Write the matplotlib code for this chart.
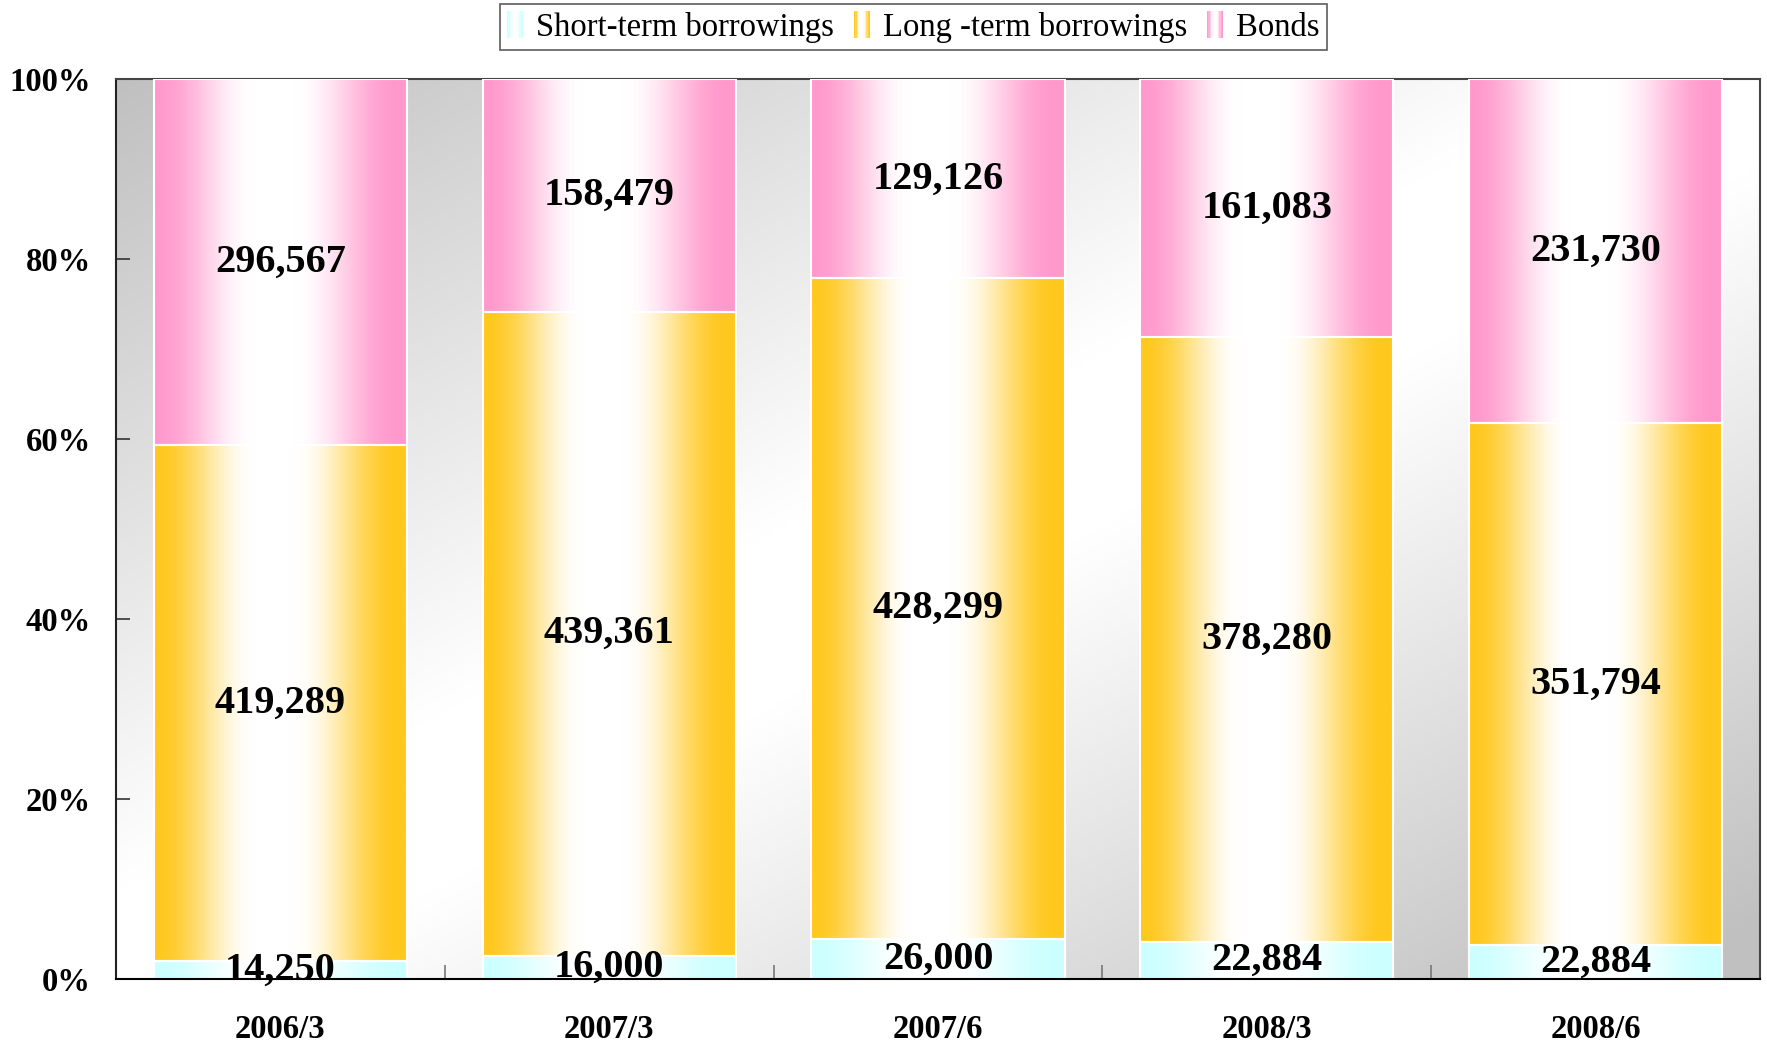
import numpy as np
import matplotlib
matplotlib.use("Agg")
import matplotlib.pyplot as plt
from matplotlib.colors import to_rgb
from matplotlib.patches import Rectangle
from matplotlib.legend_handler import HandlerBase
from matplotlib.ticker import FixedLocator, FuncFormatter

categories = ["2006/3", "2007/3", "2007/6", "2008/3", "2008/6"]
short_term = [14250, 16000, 26000, 22884, 22884]
long_term = [419289, 439361, 428299, 378280, 351794]
bonds = [296567, 158479, 129126, 161083, 231730]
series_names = ["Short-term borrowings", "Long -term borrowings", "Bonds"]
series_colors = ["#ccffff", "#ffc81e", "#ff99cc"]
yticks = [0, 20, 40, 60, 80, 100]

SERIF = ["Liberation Serif", "DejaVu Serif"]

fig = plt.figure(figsize=(17.67, 10.43), dpi=100)
ax = fig.add_axes([0.0656, 0.0614, 0.9305, 0.8626])

# background diagonal gradient (grey - white - grey)
nu, nv = 400, 200
u = np.linspace(0, 1, nu)[None, :]
v = np.linspace(1, 0, nv)[:, None]  # row 0 is top
s = (u + (1 - v)) / 2.0
g = np.where(s < 0.5, np.clip((0.45 - s) / 0.45, 0, 1), np.clip((s - 0.55) / 0.42, 0, 1))
grey = (255 - 63 * g) / 255.0
bg = np.dstack([grey, grey, grey])
ax.imshow(bg, extent=(0, 1, 0, 1), transform=ax.transAxes, aspect="auto",
          zorder=0, interpolation="bilinear")


def profile(t):
    t = np.asarray(t, dtype=float)
    a, b = 0.40, 0.55
    left = np.where(t < a, 0.5 * (1 + np.cos(np.pi * np.clip(t / a, 0, 1))), 0.0)
    right = np.where(t > b, 0.5 * (1 - np.cos(np.pi * np.clip((t - b) / (0.97 - b), 0, 1))), 0.0)
    return np.maximum(left, right)


totals = np.array(short_term) + np.array(long_term) + np.array(bonds)
series = [np.array(short_term), np.array(long_term), np.array(bonds)]
x = np.arange(len(categories))
width = 0.77
bottom = np.zeros(len(categories))
containers = []
for vals, col in zip(series, series_colors):
    pct = vals / totals * 100
    bc = ax.bar(x, pct, width, bottom=bottom, facecolor="none", edgecolor="white",
                linewidth=1.5, zorder=3.2)
    containers.append((bc, vals, pct, bottom.copy(), col))
    bottom = bottom + pct

tt = np.linspace(0, 1, 400)
for bc, vals, pct, bot, col in containers:
    base = np.array(to_rgb(col))
    f = profile(tt)[:, None]
    rgb = f * base + (1 - f) * np.ones(3)
    img = rgb[None, :, :]
    for patch, val, p, b in zip(bc.patches, vals, pct, bot):
        x0 = patch.get_x()
        w = patch.get_width()
        y0 = patch.get_y()
        h = patch.get_height()
        ax.imshow(img, extent=(x0, x0 + w, y0, y0 + h), aspect="auto",
                  zorder=3, interpolation="bilinear")
        ax.text(x0 + w / 2, y0 + h / 2, f"{val:,}", ha="center", va="center",
                fontsize=29, fontweight="bold", family=SERIF, zorder=6)

ax.set_xlim(-0.5, len(categories) - 0.5)
ax.set_ylim(0, 100)

ax.set_yticks(yticks)
ax.yaxis.set_major_formatter(FuncFormatter(lambda val, pos: f"{int(val)}%"))
ax.tick_params(axis="y", direction="in", length=10, width=1.2, color="#333333", pad=18)
ax.set_xticks(x)
ax.set_xticklabels(categories)
ax.xaxis.set_minor_locator(FixedLocator(np.arange(0.5, len(categories) - 0.5, 1)))
ax.tick_params(axis="x", which="major", length=0, pad=25)
ax.tick_params(axis="x", which="minor", direction="in", length=10, width=1.2, color="#777777")
for lab in ax.get_xticklabels() + ax.get_yticklabels():
    lab.set_fontfamily(SERIF)
    lab.set_fontweight("bold")
    lab.set_fontsize(23.5)

for name, sp in ax.spines.items():
    sp.set_linewidth(1.5)
ax.spines["left"].set_color("#222222")
ax.spines["bottom"].set_color("#000000")
ax.spines["bottom"].set_zorder(4)
ax.spines["top"].set_color("#444444")
ax.spines["right"].set_color("#444444")


class GradientHandler(HandlerBase):
    def __init__(self, color):
        super().__init__()
        self.color = np.array(to_rgb(color))

    def create_artists(self, legend, orig_handle, xdescent, ydescent, width, height,
                       fontsize, trans):
        n = 12
        arts = []
        for i in range(n):
            t = (i + 0.5) / n
            f = profile(t)
            c = f * self.color + (1 - f) * np.ones(3)
            r = Rectangle((-xdescent + i * width / n, -ydescent), width / n, height,
                          facecolor=c, edgecolor="none", transform=trans)
            arts.append(r)
        return arts


handles = [Rectangle((0, 0), 1, 1) for _ in series_names]
hmap = {h: GradientHandler(c) for h, c in zip(handles, series_colors)}
leg = fig.legend(handles, series_names, loc="upper center", bbox_to_anchor=(0.517, 0.996),
                 ncol=3, frameon=True, fancybox=False, handler_map=hmap,
                 prop={"family": SERIF, "size": 23.5}, handlelength=0.5, handleheight=0.9,
                 handletextpad=0.4, columnspacing=0.6, borderpad=0.22, borderaxespad=0.0)
leg.get_frame().set_edgecolor("#333333")
leg.get_frame().set_linewidth(1.2)

fig.savefig("out.png", dpi=100)
